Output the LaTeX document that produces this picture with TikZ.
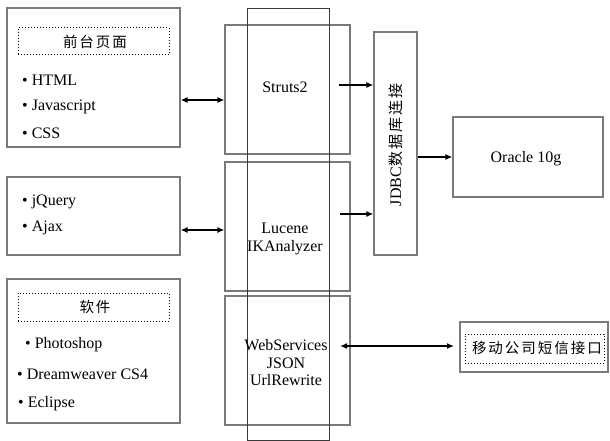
\documentclass[tikz,border=0pt]{standalone}
\usepackage{fontspec}
\setmainfont{Liberation Serif}
\newfontfamily\cjk{Noto Sans CJK SC}
\newcommand\gp{\kern2pt}
\usetikzlibrary{arrows.meta}
\definecolor{boxgray}{HTML}{7A7A7A}
\definecolor{darkline}{HTML}{3A3A3A}
\tikzset{
  x=1pt,y=-1pt,
  box/.style={draw=boxgray,line width=1.1pt,inner sep=0pt,rectangle},
  tallbox/.style={draw=darkline,line width=0.9pt,inner sep=0pt,rectangle},
  titlebox/.style={draw=black,dotted,line width=1pt,inner sep=0pt,rectangle},
  txt/.style={font=\fontsize{16}{17.5}\selectfont,inner sep=0pt},
  ctxt/.style={font=\fontsize{14.5}{16}\selectfont\cjk,inner sep=0pt},
  item/.style={txt,anchor=west},
  arr/.style={line width=1.6pt,-{Latex[length=7pt,width=6pt]}},
  dbl/.style={line width=1.6pt,{Latex[length=7pt,width=6pt]}-{Latex[length=7pt,width=6pt]}}
}
\begin{document}
\begin{tikzpicture}
\useasboundingbox (0,0) rectangle (610,441);
% left boxes
\node[box,minimum width=173pt,minimum height=139pt] (L1) at (93.5,77.5) {};
\node[titlebox,minimum width=151pt,minimum height=27pt] (T1) at (93.5,41.5) {};
\node[ctxt] (t1) at (95,42) {前\gp 台\gp 页\gp 面};
\node[item] (h1) at (22,80) {• HTML};
\node[item] (h2) at (22,107) {• Javascript};
\node[item] (h3) at (22,133) {• CSS};

\node[box,minimum width=173pt,minimum height=78pt] (L2) at (93.5,216) {};
\node[item] (j1) at (22,202) {• jQuery};
\node[item] (j2) at (22,228) {• Ajax};

\node[box,minimum width=173pt,minimum height=144pt] (L3) at (93.5,351) {};
\node[titlebox,minimum width=151pt,minimum height=28pt] (T3) at (93.5,307) {};
\node[ctxt] (t3) at (95,307) {软\gp 件};
\node[item] (p1) at (25,345) {• Photoshop};
\node[item] (p2) at (17,374) {• Dreamweaver CS4};
\node[item] (p3) at (18,404) {• Eclipse};

% middle boxes
\node[box,minimum width=125pt,minimum height=129pt] (M1) at (287.5,89.5) {};
\node[box,minimum width=125pt,minimum height=129pt] (M2) at (287.5,226.5) {};
\node[box,minimum width=125pt,minimum height=129pt] (M3) at (287.5,360.5) {};
\node[tallbox,minimum width=82pt,minimum height=432pt] (TB) at (288,224) {};
\node[txt] (st) at (285,87) {Struts2};
\node[txt,align=center] (lu) at (285,239) {Lucene\\IKAnalyzer};
\node[txt,align=center] (ws) at (286,363) {WebServices\\JSON\\UrlRewrite};

% JDBC
\node[box,minimum width=43pt,minimum height=223pt] (J) at (395.5,143.5) {};
\node[txt,rotate=90] (jt) at (395.5,145) {JDBC{\cjk\fontsize{15}{16}\selectfont 数\gp 据\gp 库\gp 连\gp 接}};

% Oracle
\node[box,minimum width=150pt,minimum height=80pt] (O) at (528,157) {};
\node[txt] (ot) at (526,159) {Oracle 10g};

% SMS
\node[box,minimum width=148pt,minimum height=50pt] (S) at (534,347) {};
\node[titlebox,minimum width=139pt,minimum height=29pt] (SI) at (534.5,348.5) {};
\node[ctxt] (sit) at (537,348) {移\gp 动\gp 公\gp 司\gp 短\gp 信\gp 接\gp 口};

% connectors
\draw[dbl] (L1.east |- 0,100) -- (M1.west |- 0,100);
\draw[dbl] (L2.east |- 0,230) -- (M2.west |- 0,230);
\coordinate (s1) at (339,85);
\coordinate (s2) at (340,214);
\coordinate (s3) at (340,346);
\coordinate (e3) at (454,346);
\draw[arr] (s1) -- (J.west |- s1);
\draw[arr] (s2) -- (J.west |- s2);
\draw[arr] (J.east |- O.west) -- (O.west);
\draw[dbl] (s3) -- (e3);
\end{tikzpicture}
\end{document}
